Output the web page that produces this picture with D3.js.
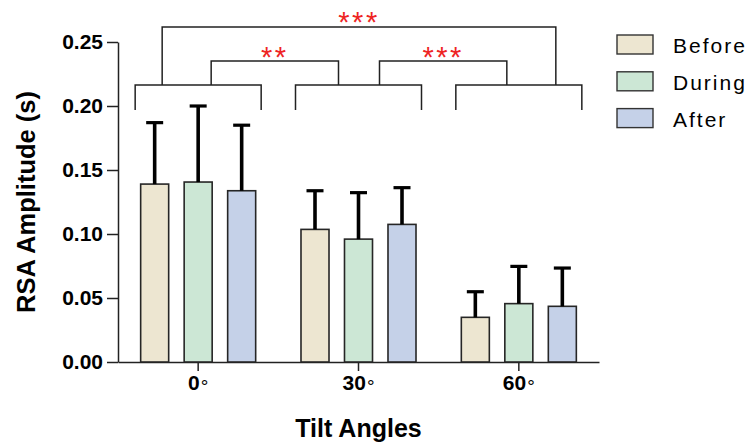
<!DOCTYPE html>
<html>
<head>
<meta charset="utf-8">
<script src="https://cdn.jsdelivr.net/npm/d3@7/dist/d3.min.js"></script>
<style>
  html, body { margin: 0; padding: 0; background: #fff; }
  svg { display: block; font-family: "Liberation Sans", Arial, sans-serif; }
</style>
</head>
<body>
<svg id="chart" width="750" height="448"></svg>
<script>
// Tilt angle groups and measurement phases
const angles = ["0", "30", "60"];
const phases = ["Before", "During", "After"];

// Mean RSA amplitude (s) per angle, one array per phase
const meanBefore = [0.139, 0.1036, 0.0349];
const meanDuring = [0.1406, 0.096, 0.0456];
const meanAfter  = [0.1338, 0.1075, 0.0435];

// Standard deviation (upper error bar) per angle, one array per phase
const sdBefore = [0.048, 0.0302, 0.020];
const sdDuring = [0.0594, 0.0363, 0.0291];
const sdAfter  = [0.0512, 0.0287, 0.0299];

const yTicks = [0, 0.05, 0.10, 0.15, 0.20, 0.25];

// Pairwise group comparisons and their significance marks
const comparisons = [
  { from: "0",  to: "30", label: "**" },
  { from: "30", to: "60", label: "***" },
  { from: "0",  to: "60", label: "***" }
];

const phaseColors = { Before: "#ede6d1", During: "#cce7d5", After: "#c5d1e8" };
const means = { Before: meanBefore, During: meanDuring, After: meanAfter };
const sds = { Before: sdBefore, During: sdDuring, After: sdAfter };

const rows = [];
angles.forEach((a, i) => {
  phases.forEach(p => rows.push({ angle: a, phase: p, mean: means[p][i], sd: sds[p][i] }));
});

const svg = d3.select("#chart");
const margin = { left: 118, right: 151, top: 42, bottom: 86 };
const W = 750, H = 448;

const x0 = d3.scaleBand().domain(angles).range([margin.left, W - margin.right]).padding(0);
const x1 = d3.scaleBand().domain(phases).range([-65.25, 65.25]).paddingInner(0.356).paddingOuter(0.178);
const y = d3.scaleLinear().domain([0, 0.25]).range([H - margin.bottom, margin.top]);
const cx = a => x0(a) + x0.bandwidth() / 2;

// Axes
const yAxis = svg.append("g")
  .attr("transform", `translate(${margin.left},0)`)
  .call(d3.axisLeft(y).tickValues(yTicks).tickFormat(d3.format(".2f")).tickSize(11).tickPadding(4).tickSizeOuter(0));
yAxis.selectAll("text").attr("font-size", 21).attr("font-weight", "bold").attr("fill", "#000")
  .attr("font-family", "'Liberation Sans', Arial, sans-serif");

const xAxis = svg.append("g")
  .attr("transform", `translate(0,${y(0)})`)
  .call(d3.axisBottom(x0).tickSize(9).tickPadding(12).tickSizeOuter(0).tickFormat(""));
xAxis.selectAll(".tick").append("text")
  .attr("y", 21).attr("dy", "0.71em").attr("text-anchor", "middle").attr("fill", "#000")
  .attr("font-family", "'Liberation Sans', Arial, sans-serif")
  .each(function (d) {
    const t = d3.select(this);
    t.append("tspan").attr("font-size", 21).attr("font-weight", "bold").text(d);
    t.append("tspan").attr("font-size", 19).attr("font-weight", "normal").attr("dx", 1).attr("dy", 2.5).text("\u00B0");
  });

svg.selectAll(".domain, .tick line").attr("stroke", "#222").attr("stroke-width", 1.5);

// Bars
const bars = svg.append("g");
bars.selectAll("rect").data(rows).join("rect")
  .attr("x", d => cx(d.angle) + x1(d.phase) )
  .attr("y", d => y(d.mean))
  .attr("width", x1.bandwidth())
  .attr("height", d => y(0) - y(d.mean))
  .attr("fill", d => phaseColors[d.phase])
  .attr("stroke", "#262626").attr("stroke-width", 1.6);

// Upper error bars
const err = svg.append("g").attr("stroke", "#000").attr("stroke-width", 3.6);
err.selectAll("line.stem").data(rows).join("line").attr("class", "stem")
  .attr("x1", d => cx(d.angle) + x1(d.phase) + x1.bandwidth() / 2)
  .attr("x2", d => cx(d.angle) + x1(d.phase) + x1.bandwidth() / 2)
  .attr("y1", d => y(d.mean)).attr("y2", d => y(d.mean + d.sd));
err.selectAll("line.cap").data(rows).join("line").attr("class", "cap")
  .attr("stroke-width", 3.2)
  .attr("x1", d => cx(d.angle) + x1(d.phase) + x1.bandwidth() / 2 - 8.5)
  .attr("x2", d => cx(d.angle) + x1(d.phase) + x1.bandwidth() / 2 + 8.5)
  .attr("y1", d => y(d.mean + d.sd)).attr("y2", d => y(d.mean + d.sd));

// Group brackets spanning the three bars of each angle
const brk = svg.append("g").attr("fill", "none").attr("stroke", "#222").attr("stroke-width", 1.5);
const groupTop = 85, groupLeg = 110, halfSpan = 63;
angles.forEach(a => {
  const c = cx(a);
  brk.append("path").attr("d", `M${c - halfSpan},${groupLeg}V${groupTop}H${c + halfSpan}V${groupLeg}`);
});

// Comparison connectors between group brackets
const legOffsets = [[13, -20], [21, -12], [-36, 37]];
const levels = [61, 61, 27];
const labelTop = [46, 46, 11];
comparisons.forEach((cmp, i) => {
  const xa = cx(cmp.from) + legOffsets[i][0];
  const xb = cx(cmp.to) + legOffsets[i][1];
  brk.append("path").attr("d", `M${xa},${groupTop}V${levels[i]}H${xb}V${groupTop}`);
  svg.append("text")
    .attr("x", (xa + xb) / 2).attr("y", labelTop[i] + 21)
    .attr("text-anchor", "middle").attr("fill", "#ee2424")
    .attr("font-size", 29).attr("letter-spacing", 2.5)
    .text(cmp.label);
});

// Axis titles
svg.append("text")
  .attr("transform", `translate(35,${y(0.125) + 0})rotate(-90)`)
  .attr("text-anchor", "middle").attr("font-size", 25.5).attr("font-weight", "bold").attr("fill", "#000")
  .text("RSA Amplitude (s)");
svg.append("text")
  .attr("x", cx("30")).attr("y", 437)
  .attr("text-anchor", "middle").attr("font-size", 25).attr("font-weight", "bold").attr("fill", "#000")
  .text("Tilt Angles");

// Legend
const legend = svg.append("g").attr("transform", "translate(617,35)");
phases.forEach((p, i) => {
  const g = legend.append("g").attr("transform", `translate(0,${i * 36.8})`);
  g.append("rect").attr("width", 36).attr("height", 19)
    .attr("fill", phaseColors[p]).attr("stroke", "#333").attr("stroke-width", 1.4);
  g.append("text").attr("x", 56).attr("y", 18.3)
    .attr("font-size", 21).attr("letter-spacing", 2).attr("fill", "#000").text(p);
});
</script>
</body>
</html>
